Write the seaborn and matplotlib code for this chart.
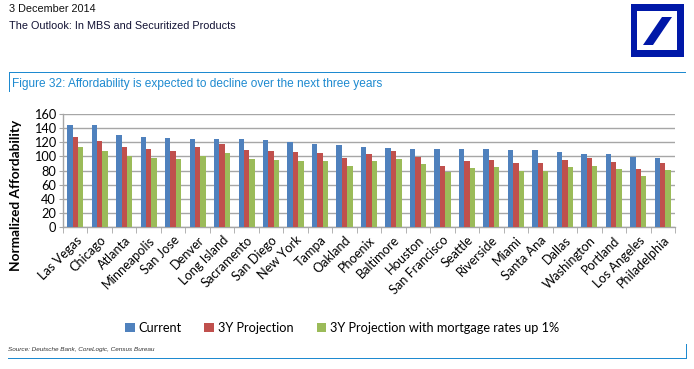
import matplotlib
matplotlib.use("Agg")
import matplotlib.pyplot as plt
import seaborn as sns
import pandas as pd
import numpy as np
from matplotlib.patches import Rectangle, Polygon

cities = ["Las Vegas", "Chicago", "Atlanta", "Minneapolis", "San Jose", "Denver",
          "Long Island", "Sacramento", "San Diego", "New York", "Tampa", "Oakland",
          "Phoenix", "Baltimore", "Houston", "San Francisco", "Seattle", "Riverside",
          "Miami", "Santa Ana", "Dallas", "Washington", "Portland", "Los Angeles",
          "Philadelphia"]
current = [145, 144, 130, 127, 126, 125, 124.5, 124.5, 123.5, 120, 117, 116,
           113, 112.5, 111, 110, 110, 110, 109, 108.5, 105.5, 104, 103, 98.5, 97]
proj3y = [128, 122, 113, 110, 108, 113.5, 117.5, 109, 107, 105.5, 105, 97.5,
          104, 108, 99.5, 87, 93, 95.5, 90, 90, 94.5, 97.5, 92, 81.5, 90]
proj3y_up1 = [113.5, 108, 100.5, 97.5, 96, 101, 104.5, 96.5, 95, 94, 93, 87,
              93, 96, 89.5, 77.5, 83.5, 84.5, 80, 80, 84.5, 86.5, 81.5, 72, 80.5]
series_names = ["Current", "3Y Projection", "3Y Projection with mortgage rates up 1%"]
colors = ["#4F81BD", "#C0504D", "#9BBB59"]
yticks = [0, 20, 40, 60, 80, 100, 120, 140, 160]

df = pd.DataFrame({
    "City": cities * 3,
    "Series": sum([[s] * len(cities) for s in series_names], []),
    "Value": current + proj3y + proj3y_up1,
})

W, H = 694, 369
fig = plt.figure(figsize=(W / 100, H / 100), dpi=100)

# Page decoration overlay (pixel coordinates)
deco = fig.add_axes([0, 0, 1, 1])
deco.set_xlim(0, W)
deco.set_ylim(H, 0)
deco.axis("off")
hdr_font = ["Liberation Sans", "DejaVu Sans"]
deco.text(9, 9, "3 December 2014", fontsize=7.8, family=hdr_font, va="center", ha="left", color="#111111")
deco.text(9, 26, "The Outlook: In MBS and Securitized Products", fontsize=7.8, family=hdr_font,
          va="center", ha="left", color="#111133")
# logo
deco.add_patch(Rectangle((631, 4), 53, 53, color="#0018A8", lw=0))
deco.add_patch(Rectangle((637.5, 11), 39.5, 39, color="white", lw=0))
deco.add_patch(Polygon([(643, 45), (653, 45), (672, 17), (662, 17)], closed=True, color="#0018A8", lw=0))
# figure title box
blue_line = "#1E8AD0"
deco.add_patch(Rectangle((9, 72), 677, 1.3, color=blue_line, lw=0))
deco.add_patch(Rectangle((9, 72), 1.3, 20, color=blue_line, lw=0))
deco.text(12, 83.5, "Figure 32: Affordability is expected to decline over the next three years",
          fontsize=8.6, family=hdr_font, va="center", ha="left", color="#1E8AD0")
# bottom source and line
deco.text(8, 349, "Source: Deutsche Bank, CoreLogic, Census Bureau", fontsize=4.6, family=hdr_font,
          style="italic", va="center", ha="left", color="#333333")
deco.add_patch(Rectangle((8, 357.8), 679, 1.6, color=blue_line, lw=0))
deco.add_patch(Rectangle((685.8, 344), 1.3, 15, color=blue_line, lw=0))

# Chart
chart_font = ["Lato", "DejaVu Sans"]
ax = fig.add_axes([63 / W, 1 - 227 / H, (675 - 63) / W, (227 - 114) / H])
sns.barplot(data=df, x="City", y="Value", hue="Series", palette=colors, width=0.66,
            gap=0, ax=ax, saturation=1, edgecolor="none", linewidth=0, legend=True, zorder=3)
ax.set_ylim(0, 160)
ax.set_xlim(-0.5, len(cities) - 0.5)
ax.set_yticks(yticks)
ax.set_yticklabels([str(v) for v in yticks], fontsize=9.2, family=chart_font)
ax.yaxis.grid(True, color="#A6A6A6", lw=1.0, zorder=0)
ax.set_axisbelow(True)
for s in ["top", "right"]:
    ax.spines[s].set_visible(False)
for s in ["left", "bottom"]:
    ax.spines[s].set_color("#A6A6A6")
    ax.spines[s].set_linewidth(1.0)
ax.tick_params(axis="y", length=3, color="#A6A6A6", pad=2)
ax.set_xticks(range(len(cities)))
ax.set_xticklabels(cities, rotation=45, ha="right", rotation_mode="anchor", fontsize=9.2,
                   family=chart_font)
ax.tick_params(axis="x", length=0, pad=5)
ax.set_xticks(np.arange(-0.5, len(cities), 1.0), minor=True)
ax.tick_params(axis="x", which="minor", length=4, color="#A6A6A6")
ax.set_xlabel("")
ax.set_ylabel("Normalized Affordability", fontsize=9.8, fontweight="bold", family=chart_font)
ax.yaxis.set_label_coords((22 - 63) / 612, (227 - 195) / 113)

handles, labels = ax.get_legend_handles_labels()
ax.legend_.remove()
fig.legend(handles, labels, loc="center", bbox_to_anchor=(342 / W, 1 - 328 / H), ncol=3,
           frameon=False, prop={"family": chart_font, "size": 9.2}, handlelength=0.75,
           handleheight=0.75, handletextpad=0.3, columnspacing=1.8)

fig.savefig("out.png", dpi=100)
